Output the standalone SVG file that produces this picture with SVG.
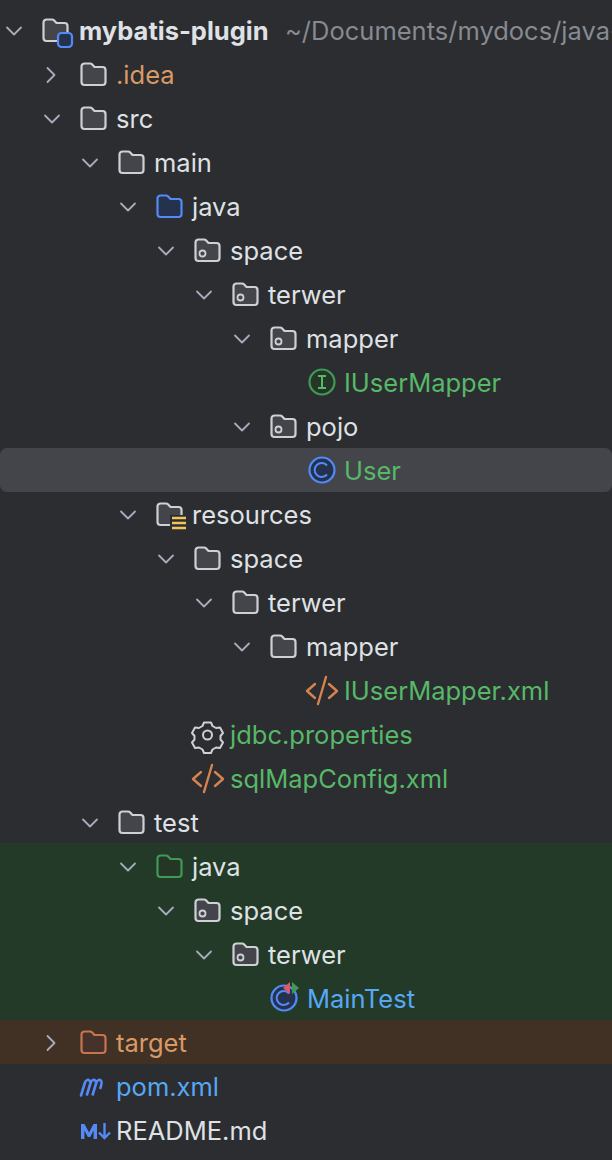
<svg xmlns="http://www.w3.org/2000/svg" width="612" height="1160" viewBox="0 0 612 1160">
<style>
text{font-family:Inter,"Noto Sans","Liberation Sans",sans-serif;font-size:25.5px;fill:#dfe1e5}
.g{fill:#57b868}.o{fill:#d99a66}.b{fill:#56a8f5}.p{fill:#3f9cf0}
.ch{fill:none;stroke:#a8adbd;stroke-width:1.8;stroke-linecap:round;stroke-linejoin:round}
.fo{fill:#43454a;stroke:#ced0d6;stroke-width:2.2;stroke-linejoin:round}
.ln{fill:none;stroke:#ced0d6;stroke-width:2;stroke-linejoin:round}
.xm{fill:none;stroke:#d6834f;stroke-width:2.4;stroke-linecap:round;stroke-linejoin:round}
</style>
<defs>
<path id="folder" class="fo" d="M1.5-8.5a3 3 0 0 1 3-3h5.5a3 3 0 0 1 2.2 1l2.3 2.5h8a3 3 0 0 1 3 3v12a3 3 0 0 1-3 3h-18a3 3 0 0 1-3-3z"/>
<g id="pkg"><use href="#folder"/><circle cx="8.5" cy="2.5" r="3" fill="none" stroke="#ced0d6" stroke-width="1.8"/></g>
<path id="down" class="ch" d="M-7-3.500 0 3.500 7-3.500"/>
<path id="right" class="ch" d="M-3.500-7 3.500 0-3.500 7"/>
<g id="xml"><path class="xm" d="M-7-7-15 0-7 7M7-7 15 0 7 7M4-14-4 13"/></g>
</defs>
<rect width="612" height="1160" fill="#2b2d30"/>
<rect x="0" y="448" width="612" height="44" rx="7" fill="#43454a"/>
<rect x="0" y="843" width="612" height="177" fill="#223a27"/>
<rect x="0" y="1020" width="612" height="44" fill="#413124"/>
<g id="connectors">
<use href="#down" x="14" y="31"/>
<use href="#right" x="51" y="75"/>
<use href="#down" x="52" y="119"/>
<use href="#down" x="90" y="163"/>
<use href="#down" x="128" y="207"/>
<use href="#down" x="166" y="251"/>
<use href="#down" x="204" y="295"/>
<use href="#down" x="242" y="339"/>
<use href="#down" x="242" y="427"/>
<use href="#down" x="128" y="515"/>
<use href="#down" x="166" y="559"/>
<use href="#down" x="204" y="603"/>
<use href="#down" x="242" y="647"/>
<use href="#down" x="90" y="823"/>
<use href="#down" x="128" y="867"/>
<use href="#down" x="166" y="911"/>
<use href="#down" x="204" y="955"/>
<use href="#right" x="51" y="1043"/>
</g>
<g id="n-root"><use href="#folder" x="42" y="31"/><rect x="58" y="33" width="14" height="14" rx="3.500" fill="#25324d" stroke="#548af7" stroke-width="2.200"/><text x="79" y="40" font-weight="700">mybatis-plugin</text><text x="285" y="40" style="fill:#868a91">~/Documents/mydocs/java-</text></g>
<g id="n-idea"><use href="#folder" x="80" y="75"/><text x="116" y="84" class="o">.idea</text></g>
<g id="n-src"><use href="#folder" x="80" y="119"/><text x="116" y="128">src</text></g>
<g id="n-main"><use href="#folder" x="118" y="163"/><text x="154" y="172">main</text></g>
<g id="n-java"><path transform="translate(156 207)" d="M1.500-8.500a3 3 0 0 1 3-3h5.500a3 3 0 0 1 2.200 1l2.300 2.500h8a3 3 0 0 1 3 3v12a3 3 0 0 1-3 3h-18a3 3 0 0 1-3-3z" fill="#25324d" stroke="#548af7" stroke-width="2.200" stroke-linejoin="round"/><text x="192" y="216">java</text></g>
<g id="n-space1"><use href="#pkg" x="194" y="251"/><text x="230" y="260">space</text></g>
<g id="n-terwer1"><use href="#pkg" x="232" y="295"/><text x="268" y="304">terwer</text></g>
<g id="n-mapper1"><use href="#pkg" x="270" y="339"/><text x="306" y="348">mapper</text></g>
<g id="n-iusermapper"><circle cx="322" cy="382" r="12.500" fill="#253627" stroke="#3f9a55" stroke-width="2.200"/><path d="M318 376h8M318 388h8M322 376v12" fill="none" stroke="#57b868" stroke-width="2"/><text x="344" y="392" class="g">IUserMapper</text></g>
<g id="n-pojo"><use href="#pkg" x="270" y="427"/><text x="306" y="436">pojo</text></g>
<g id="n-user"><circle cx="322" cy="470" r="12.500" fill="#25324d" stroke="#548af7" stroke-width="2.200"/><path d="M327 465.500a7 7 0 1 0 0 9" fill="none" stroke="#548af7" stroke-width="2"/><text x="344" y="480" class="g">User</text></g>
<g id="n-resources"><use href="#folder" x="156" y="515"/><rect x="170" y="515" width="18" height="15" fill="#2b2d30"/><path d="M172 518h14M172 523h14M172 528h14" stroke="#f2c55c" stroke-width="2.400" fill="none"/><text x="192" y="524">resources</text></g>
<g id="n-space2"><use href="#folder" x="194" y="559"/><text x="230" y="568">space</text></g>
<g id="n-terwer2"><use href="#folder" x="232" y="603"/><text x="268" y="612">terwer</text></g>
<g id="n-mapper2"><use href="#folder" x="270" y="647"/><text x="306" y="656">mapper</text></g>
<g id="n-iusermapperxml"><use href="#xml" x="322" y="691"/><text x="344" y="700" class="g">IUserMapper.xml</text></g>
<g id="n-jdbc"><path d="M204 722.500h7l1.500 3.500 3.500 2 4-.5 3 5.500-2.500 3v3.500l2.500 3-3 5.500-4-.5-3.500 2-1.500 3.500h-7l-1.500-3.500-3.500-2-4 .5-3-5.500 2.500-3v-3.500l-2.500-3 3-5.500 4 .5 3.500-2z" fill="none" stroke="#ced0d6" stroke-width="2" stroke-linejoin="round"/><circle cx="207.500" cy="735" r="4.500" fill="none" stroke="#ced0d6" stroke-width="2"/><text x="230" y="744" class="g">jdbc.properties</text></g>
<g id="n-sqlmap"><use href="#xml" x="208" y="779"/><text x="230" y="788" class="g">sqlMapConfig.xml</text></g>
<g id="n-test"><use href="#folder" x="118" y="823"/><text x="154" y="832">test</text></g>
<g id="n-java2"><path transform="translate(156 867)" d="M1.500-8.500a3 3 0 0 1 3-3h5.500a3 3 0 0 1 2.200 1l2.300 2.500h8a3 3 0 0 1 3 3v12a3 3 0 0 1-3 3h-18a3 3 0 0 1-3-3z" fill="#253627" stroke="#3f9a55" stroke-width="2.200" stroke-linejoin="round"/><text x="192" y="876">java</text></g>
<g id="n-space3"><use href="#pkg" x="194" y="911"/><text x="230" y="920">space</text></g>
<g id="n-terwer3"><use href="#pkg" x="232" y="955"/><text x="268" y="964">terwer</text></g>
<g id="n-maintest"><circle cx="284" cy="998" r="12.500" fill="#25324d" stroke="#548af7" stroke-width="2.200"/><path d="M289 993.500a7 7 0 1 0 0 9" fill="none" stroke="#548af7" stroke-width="2"/><path d="M290 982l-7 6 7 6z" fill="#e55765"/><path d="M292 982l7 6-7 6z" fill="#3f9a55"/><text x="307" y="1008" class="b">MainTest</text></g>
<g id="n-target"><path transform="translate(80 1043)" d="M1.500-8.500a3 3 0 0 1 3-3h5.500a3 3 0 0 1 2.200 1l2.300 2.500h8a3 3 0 0 1 3 3v12a3 3 0 0 1-3 3h-18a3 3 0 0 1-3-3z" fill="#45322b" stroke="#c9744f" stroke-width="2.200" stroke-linejoin="round"/><text x="116" y="1052" class="o">target</text></g>
<g id="n-pom"><path d="M81 1096.500l4-13c.8-2.500 3-3.300 4.500-2 1 .8 1 2 .6 3.500l-3.400 11.500 4-13c.8-2.500 3-3.300 4.500-2 1 .8 1 2 .6 3.500l-3.400 11.500 4-13c.8-2.500 3-3.300 4.500-2 1.600 1.300.6 4-.5 7.500" transform="translate(0 -1)" fill="none" stroke="#548af7" stroke-width="2.600" stroke-linecap="round"/><text x="116" y="1096" class="b">pom.xml</text></g>
<g id="n-readme"><path d="M81 1139v-15h3.500l4.500 8.500 4.500-8.500h3.500v15h-3.400v-8.500l-3.400 6.500h-2.400l-3.400-6.500v8.500z" fill="#548af7"/><path d="M104.500 1123v14M99 1132.500l5.500 5.500 5.500-5.500" fill="none" stroke="#548af7" stroke-width="2.400"/><text x="116" y="1140">README.md</text></g>
</svg>
